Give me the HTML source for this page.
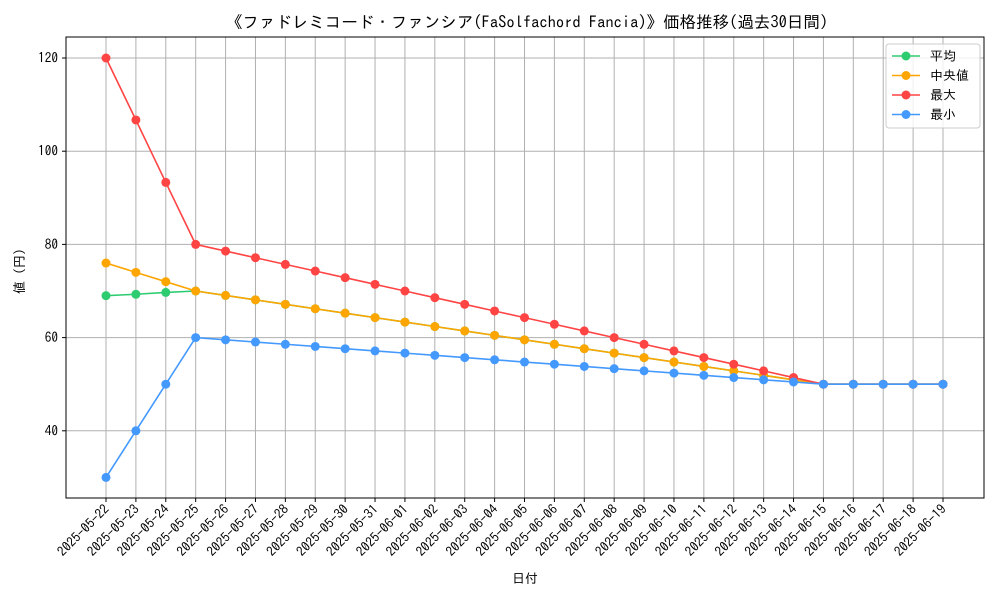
<!DOCTYPE html>
<html><head><meta charset="utf-8"><style>
body{margin:0;background:#fff}
svg text{font-family:"IPAGothic","Liberation Mono","Noto Sans CJK JP",monospace;fill:#000}
</style></head><body>
<svg id="chart" width="1000" height="600" xmlns="http://www.w3.org/2000/svg">
<rect width="1000" height="600" fill="#fff"/>
<text x="527" y="28" font-size="16.5" text-anchor="middle">《ファドレミコード・ファンシア(FaSolfachord Fancia)》価格推移(過去30日間)</text>
<g id="grid"></g>
<g id="series"></g>
<g id="axes"></g>
<rect x="66" y="37" width="918" height="461" fill="none" stroke="#000" stroke-width="1"/>
<text x="525" y="583" font-size="13" text-anchor="middle">日付</text>
<text x="24" y="268" font-size="13" text-anchor="middle" transform="rotate(-90 24 268)">値（円）</text>
<g>
<rect x="886" y="44" width="94" height="84" fill="#fff" fill-opacity="0.8" stroke="#ccc" rx="3"/>
<g id="legend-items"></g>
</g>
</svg>
<script>
const dates=["2025-05-22","2025-05-23","2025-05-24","2025-05-25","2025-05-26","2025-05-27","2025-05-28","2025-05-29","2025-05-30","2025-05-31","2025-06-01","2025-06-02","2025-06-03","2025-06-04","2025-06-05","2025-06-06","2025-06-07","2025-06-08","2025-06-09","2025-06-10","2025-06-11","2025-06-12","2025-06-13","2025-06-14","2025-06-15","2025-06-16","2025-06-17","2025-06-18","2025-06-19"];
const meanVals=[69,69.3,69.7,70,69.05,68.1,67.14,66.19,65.24,64.29,63.33,62.38,61.43,60.48,59.52,58.57,57.62,56.67,55.71,54.76,53.81,52.86,51.9,50.95,50,50,50,50,50];
const medianVals=[76,74,72,70,69.05,68.1,67.14,66.19,65.24,64.29,63.33,62.38,61.43,60.48,59.52,58.57,57.62,56.67,55.71,54.76,53.81,52.86,51.9,50.95,50,50,50,50,50];
const maxVals=[120,106.7,93.3,80,78.57,77.14,75.71,74.29,72.86,71.43,70,68.57,67.14,65.71,64.29,62.86,61.43,60,58.57,57.14,55.71,54.29,52.86,51.43,50,50,50,50,50];
const minVals=[30,40,50,60,59.52,59.05,58.57,58.1,57.62,57.14,56.67,56.19,55.71,55.24,54.76,54.29,53.81,53.33,52.86,52.38,51.9,51.43,50.95,50.48,50,50,50,50,50];
const yTicks=[40,60,80,100,120];
const seriesNames=["平均","中央値","最大","最小"];
const NS="http://www.w3.org/2000/svg";
const X0=106,X1=943;
const xS=i=>X0+(X1-X0)*i/(dates.length-1);
const yS=v=>617.2-v*4.66;
function mk(t,a,p){const e=document.createElementNS(NS,t);for(const k in a)e.setAttribute(k,a[k]);p.appendChild(e);return e;}
const grid=document.getElementById('grid'),axes=document.getElementById('axes'),ser=document.getElementById('series');
dates.forEach((d,i)=>{
 const x=xS(i);
 const g=mk('line',{x1:x,x2:x,y1:37,y2:498,stroke:'#b0b0b0','stroke-width':1},grid);
 
 
 const t=mk('line',{x1:x,x2:x,y1:498,y2:502,stroke:'#000'},axes);
 
 
 const l=mk('text',{x:x+4,y:510,'font-size':13.3,'text-anchor':'end',transform:`rotate(-45 ${x+4} 510)`},axes);
 l.textContent=d;
 
 
});
yTicks.forEach(v=>{
 const y=yS(v);
 const g=mk('line',{x1:66,x2:984,y1:y,y2:y,stroke:'#b0b0b0','stroke-width':1},grid);
 
 
 const t=mk('line',{x1:62,x2:66,y1:y,y2:y,stroke:'#000'},axes);
 
 
 const l=mk('text',{x:58,y:y+4.5,'font-size':13.3,'text-anchor':'end'},axes);
 l.textContent=v;
 
 
});
const all=[[meanVals,'#2ecc71'],[medianVals,'#ffa500'],[maxVals,'#ff4444'],[minVals,'#4499ff']];
const keys=['mean','median','max','min'];
all.forEach(([vals,c],k)=>{
 const g=mk('g',{},ser);
 
 
 const pl=mk('polyline',{points:vals.map((v,i)=>xS(i)+','+yS(v)).join(' '),fill:'none',stroke:c,'stroke-width':1.6},g);
 
 
 vals.forEach((v,i)=>{
  const p=mk('circle',{cx:xS(i),cy:yS(v),r:4.5,fill:c},g);
  
  
 });
});
const li=document.getElementById('legend-items');
seriesNames.forEach((n,k)=>{
 const y=56+k*19.5,c=all[k][1];
 const g=mk('g',{},li);
 
 
 mk('line',{x1:892,x2:920,y1:y,y2:y,stroke:c,'stroke-width':1.6},g);
 mk('circle',{cx:906,cy:y,r:4.5,fill:c},g);
 const t=mk('text',{x:930,y:y+4.5,'font-size':13},g);
 t.textContent=(k===1?' ':'')+n;
});
</script>
</body></html>
